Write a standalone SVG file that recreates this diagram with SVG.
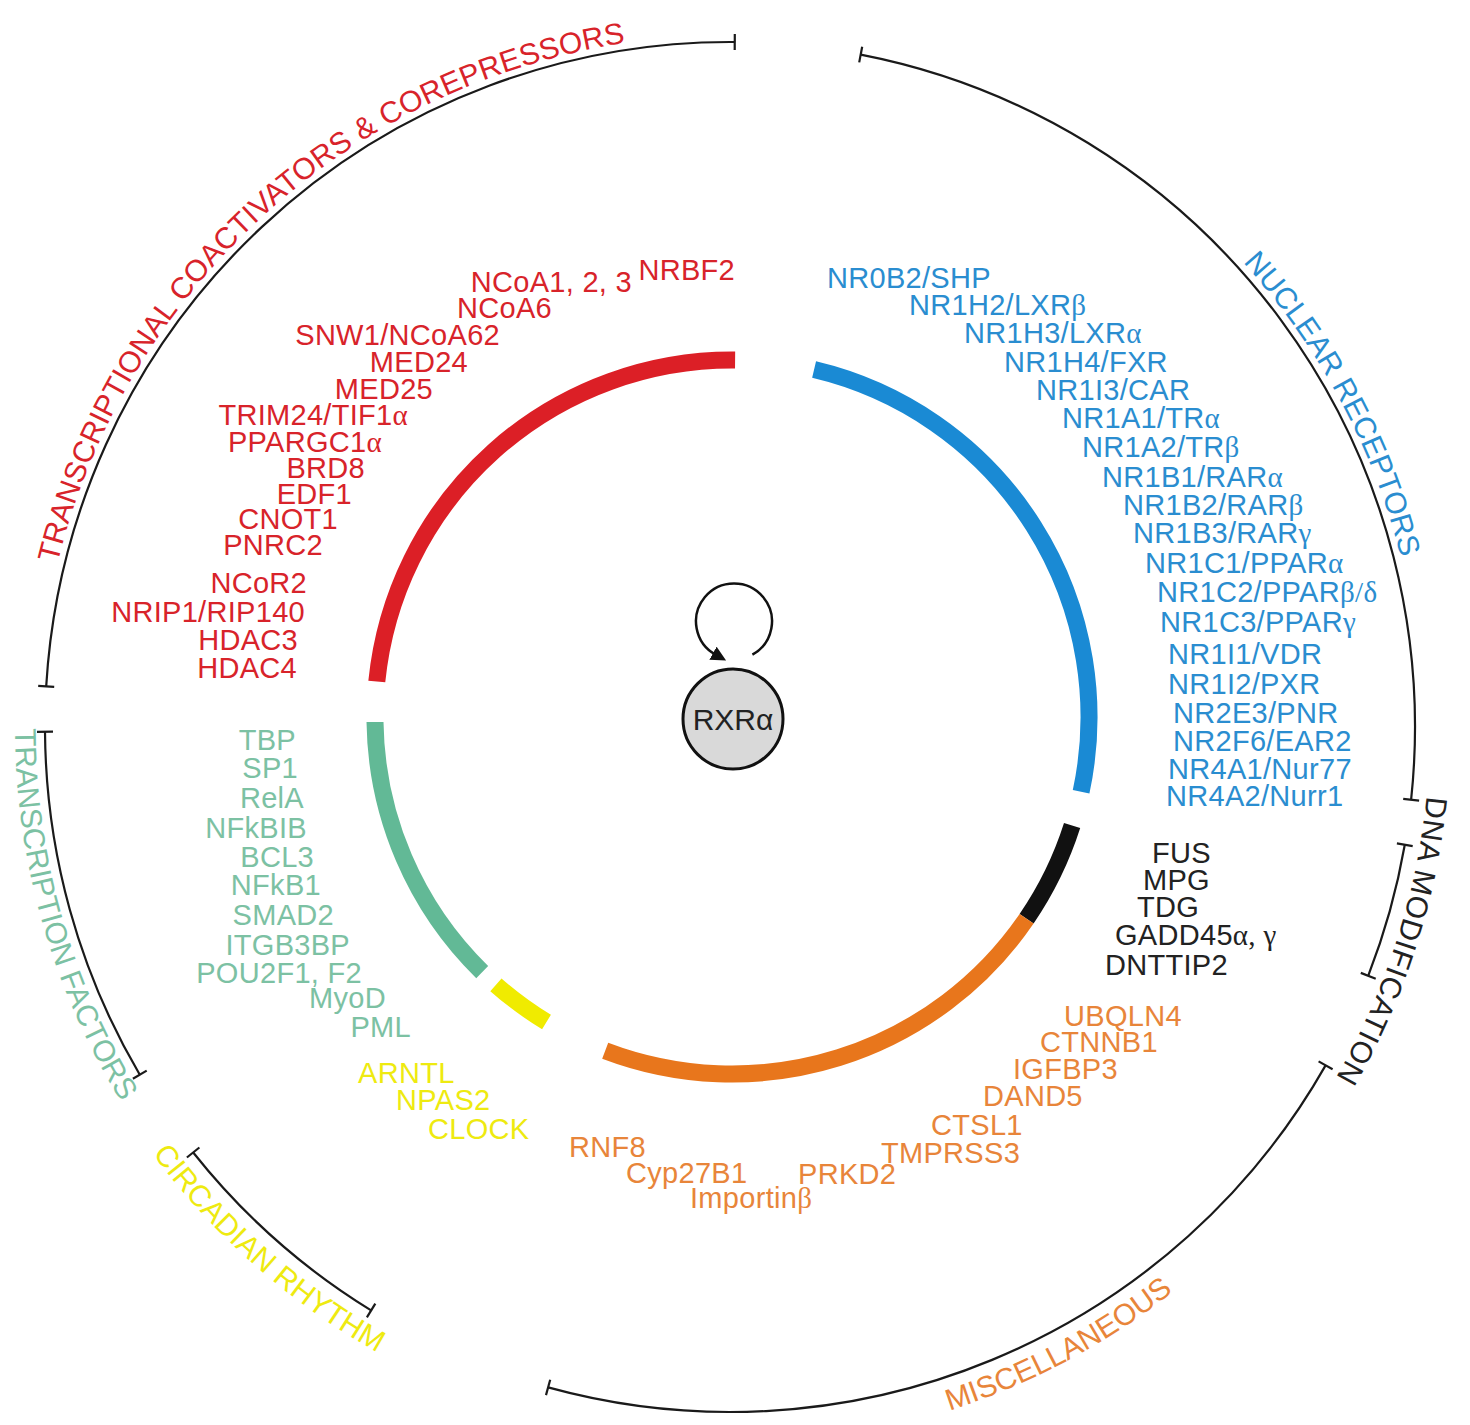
<svg xmlns="http://www.w3.org/2000/svg" width="1470" height="1425" viewBox="0 0 1470 1425">
<defs>
<style>
text{font-family:"Liberation Sans",Arial,sans-serif;font-size:29px;letter-spacing:0.3px}
.t{font-size:30px;letter-spacing:0}
.g{font-family:"Liberation Serif","Times New Roman",serif}
.ring{fill:none;stroke-width:17;stroke-linecap:butt}
.br{fill:none;stroke:#1a1a1a;stroke-width:2.2}
.tk{stroke:#1a1a1a;stroke-width:2.2}
.red{fill:#d8232a}.blue{fill:#2a8dd0}.teal{fill:#7cc1a3}.yel{fill:#eeea10}.org{fill:#e8853a}.blk{fill:#222}
.e{text-anchor:end}
</style>
<marker id="ah" viewBox="0 0 10 10" refX="2" refY="5" markerWidth="6" markerHeight="6" orient="auto" markerUnits="strokeWidth">
<path d="M0,0 L10,5 L0,10 z" fill="#111"/>
</marker>
<path id="pT1" d="M 55.7 571.3 A 692 692 0 0 1 669.7 37.6"/>
<path id="pT2" d="M 1236.1 255.1 A 692 692 0 0 1 1411.5 606.8"/>
<path id="pT3" d="M 1427.3 788.0 A 700 700 0 0 1 1323.6 1097.9"/>
<path id="pT4" d="M 939.9 1413.6 A 718 718 0 0 0 1191.5 1277.0"/>
<path id="pT5" d="M 149.1 1149.0 A 718 718 0 0 0 392.9 1361.0"/>
<path id="pT6" d="M 15.1 714.5 A 715 715 0 0 0 130.4 1116.4"/>
</defs>
<rect width="1470" height="1425" fill="#fff"/>

<g id="outer-brackets">
<path class="br" d="M 46.2 686.4 A 685 685 0 0 1 734.8 42.0"/>
<line class="tk" x1="54.2" y1="686.85" x2="38.2" y2="685.9"/>
<line class="tk" x1="734.7" y1="50.0" x2="734.8" y2="34.0"/>
<path class="br" d="M 860.7 54.6 A 685 685 0 0 1 1411.1 799.8"/>
<line class="tk" x1="859.2" y1="62.4" x2="862.2" y2="46.7"/>
<line class="tk" x1="1403.2" y1="798.9" x2="1419.1" y2="800.6"/>
<path class="br" d="M 1404.8 844.8 A 685 685 0 0 1 1368.2 975.8"/>
<line class="tk" x1="1396.9" y1="843.4" x2="1412.7" y2="846.1"/>
<line class="tk" x1="1360.8" y1="972.9" x2="1375.7" y2="978.7"/>
<path class="br" d="M 1325.6 1065.4 A 685 685 0 0 1 548.1 1387.4"/>
<line class="tk" x1="1318.6" y1="1061.4" x2="1332.6" y2="1069.3"/>
<line class="tk" x1="550.2" y1="1379.7" x2="546.0" y2="1395.1"/>
<path class="br" d="M 371.1 1310.4 A 685 685 0 0 1 193.2 1152.5"/>
<line class="tk" x1="375.3" y1="1303.6" x2="366.9" y2="1317.3"/>
<line class="tk" x1="199.4" y1="1147.5" x2="186.9" y2="1157.5"/>
<path class="br" d="M 139.8 1074.7 A 685 685 0 0 1 45.0 731.8"/>
<line class="tk" x1="146.7" y1="1070.6" x2="132.9" y2="1078.7"/>
<line class="tk" x1="53.0" y1="731.7" x2="37.0" y2="731.8"/>
</g>

<g id="category-titles">
<text class="red t"><textPath href="#pT1" startOffset="8" textLength="817" lengthAdjust="spacing">TRANSCRIPTIONAL COACTIVATORS &amp; COREPRESSORS</textPath></text>
<text class="blue t"><textPath href="#pT2" startOffset="10" textLength="338" lengthAdjust="spacing">NUCLEAR RECEPTORS</textPath></text>
<text class="blk t"><textPath href="#pT3" startOffset="8" textLength="298" lengthAdjust="spacing">DNA MODIFICATION</textPath></text>
<text class="org t"><textPath href="#pT4" startOffset="10" textLength="255" lengthAdjust="spacing">MISCELLANEOUS</textPath></text>
<text class="yel t"><textPath href="#pT5" startOffset="6" textLength="302" lengthAdjust="spacing">CIRCADIAN RHYTHM</textPath></text>
<text class="teal t"><textPath href="#pT6" startOffset="14" textLength="393" lengthAdjust="spacing">TRANSCRIPTION FACTORS</textPath></text>
</g>

<g id="coregulators">
<path class="ring" stroke="#dc1f26" d="M 376.8 681.5 A 357 357 0 0 1 735.1 360.0"/>
<text class="red e" x="632" y="292">NCoA1, 2, 3</text>
<text class="red e" x="735" y="280">NRBF2</text>
<text class="red e" x="552" y="318">NCoA6</text>
<text class="red e" x="500" y="345">SNW1/NCoA62</text>
<text class="red e" x="468" y="372">MED24</text>
<text class="red e" x="433" y="399">MED25</text>
<text class="red e" x="408" y="425">TRIM24/TIF1<tspan class="g">α</tspan></text>
<text class="red e" x="382" y="452">PPARGC1<tspan class="g">α</tspan></text>
<text class="red e" x="365" y="478">BRD8</text>
<text class="red e" x="352" y="504">EDF1</text>
<text class="red e" x="338" y="529">CNOT1</text>
<text class="red e" x="323" y="555">PNRC2</text>
<text class="red e" x="307" y="593">NCoR2</text>
<text class="red e" x="305" y="622">NRIP1/RIP140</text>
<text class="red e" x="298" y="650">HDAC3</text>
<text class="red e" x="297" y="678">HDAC4</text>
</g>

<g id="nuclear-receptors">
<path class="ring" stroke="#1a8ad4" d="M 814.1 369.6 A 357 357 0 0 1 1081.1 791.8"/>
<text class="blue" x="827" y="288">NR0B2/SHP</text>
<text class="blue" x="909" y="315">NR1H2/LXR<tspan class="g">β</tspan></text>
<text class="blue" x="964" y="343">NR1H3/LXR<tspan class="g">α</tspan></text>
<text class="blue" x="1004" y="372">NR1H4/FXR</text>
<text class="blue" x="1036" y="400">NR1I3/CAR</text>
<text class="blue" x="1062" y="428">NR1A1/TR<tspan class="g">α</tspan></text>
<text class="blue" x="1082" y="457">NR1A2/TR<tspan class="g">β</tspan></text>
<text class="blue" x="1102" y="487">NR1B1/RAR<tspan class="g">α</tspan></text>
<text class="blue" x="1123" y="515">NR1B2/RAR<tspan class="g">β</tspan></text>
<text class="blue" x="1133" y="543">NR1B3/RAR<tspan class="g">γ</tspan></text>
<text class="blue" x="1145" y="573">NR1C1/PPAR<tspan class="g">α</tspan></text>
<text class="blue" x="1157" y="602">NR1C2/PPAR<tspan class="g">β/δ</tspan></text>
<text class="blue" x="1160" y="632">NR1C3/PPAR<tspan class="g">γ</tspan></text>
<text class="blue" x="1168" y="664">NR1I1/VDR</text>
<text class="blue" x="1168" y="694">NR1I2/PXR</text>
<text class="blue" x="1173" y="723">NR2E3/PNR</text>
<text class="blue" x="1173" y="751">NR2F6/EAR2</text>
<text class="blue" x="1168" y="779">NR4A1/Nur77</text>
<text class="blue" x="1166" y="806">NR4A2/Nurr1</text>
</g>

<g id="dna-modification">
<path class="ring" stroke="#111" d="M 1072.1 825.5 A 357 357 0 0 1 1026.6 918.7"/>
<text class="blk" x="1152" y="863">FUS</text>
<text class="blk" x="1143" y="890">MPG</text>
<text class="blk" x="1137" y="917">TDG</text>
<text class="blk" x="1115" y="945">GADD45<tspan class="g">α, γ</tspan></text>
<text class="blk" x="1105" y="975">DNTTIP2</text>
</g>

<g id="miscellaneous">
<path class="ring" stroke="#e8761c" d="M 1026.6 918.7 A 357 357 0 0 1 605.2 1050.7"/>
<text class="org" x="1064" y="1026">UBQLN4</text>
<text class="org" x="1040" y="1052">CTNNB1</text>
<text class="org" x="1013" y="1079">IGFBP3</text>
<text class="org" x="983" y="1106">DAND5</text>
<text class="org" x="931" y="1135">CTSL1</text>
<text class="org" x="881" y="1163">TMPRSS3</text>
<text class="org" x="798" y="1184">PRKD2</text>
<text class="org" x="569" y="1157">RNF8</text>
<text class="org" x="626" y="1183">Cyp27B1</text>
<text class="org" x="690" y="1208">Importin<tspan class="g">β</tspan></text>
</g>

<g id="circadian-rhythm">
<path class="ring" stroke="#f0eb00" d="M 546.5 1022.0 A 357 357 0 0 1 495.9 984.8"/>
<text class="yel" x="358" y="1083">ARNTL</text>
<text class="yel" x="396" y="1110">NPAS2</text>
<text class="yel" x="428" y="1139">CLOCK</text>
</g>

<g id="transcription-factors">
<path class="ring" stroke="#62b996" d="M 482.2 972.1 A 357 357 0 0 1 375.0 722.0"/>
<text class="teal e" x="296" y="750">TBP</text>
<text class="teal e" x="298" y="778">SP1</text>
<text class="teal e" x="304" y="808">RelA</text>
<text class="teal e" x="307" y="838">NFkBIB</text>
<text class="teal e" x="314" y="867">BCL3</text>
<text class="teal e" x="321" y="895">NFkB1</text>
<text class="teal e" x="334" y="925">SMAD2</text>
<text class="teal e" x="350" y="955">ITGB3BP</text>
<text class="teal e" x="362" y="983">POU2F1, F2</text>
<text class="teal e" x="386" y="1008">MyoD</text>
<text class="teal e" x="411" y="1037">PML</text>
</g>

<g id="rxra">
<circle cx="733" cy="719" r="50" fill="#d9d9d9" stroke="#111" stroke-width="3"/>
<text x="733" y="730" text-anchor="middle" fill="#222" class="t">RXR<tspan>α</tspan></text>
</g>

<g id="connectors">
<path d="M 752.4 654.7 A 38 38 0 1 0 715.6 654.7" fill="none" stroke="#111" stroke-width="2.5" marker-end="url(#ah)"/>
</g>
</svg>
